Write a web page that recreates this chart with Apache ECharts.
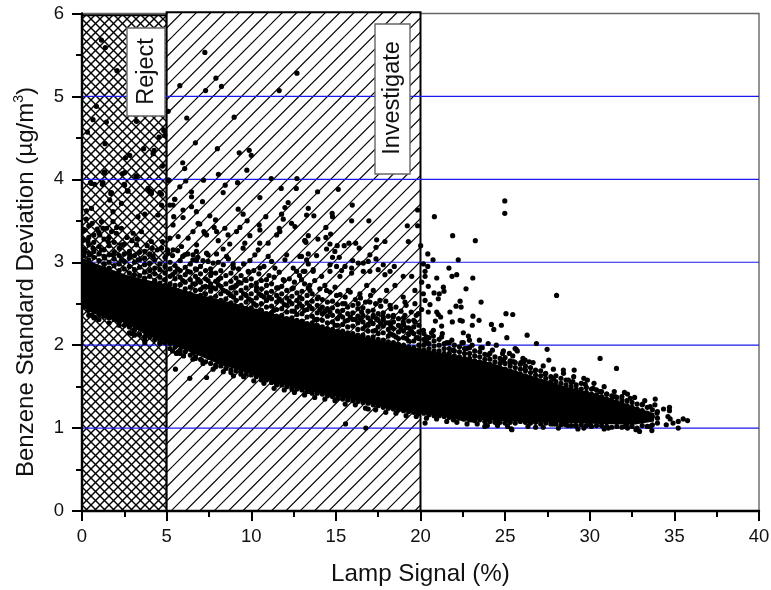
<!DOCTYPE html>
<html><head><meta charset="utf-8">
<style>html,body{margin:0;padding:0;background:#fff}#c{width:771px;height:590px}</style>
<script src="https://cdn.jsdelivr.net/npm/echarts@6/dist/echarts.min.js"></script>
</head><body><div id="c"></div>
<script>
const xTicks=[0,5,10,15,20,25,30,35,40];
const yTicks=[0,1,2,3,4,5,6];
const guideLevels=[1,2,3,4,5];
const regionNames=['Reject','Investigate'];
const regionFrom=[0,5];
const regionTo=[5,20];
const regionTop=[5.98,6.015];
// solid core of the cloud, read as lower / upper edge
const coreX=[0,1,2.6,3.8,5,6.6,8.1,9.7,11.3,12.9,14.2,16.2,18.2,20.1,22.1,24.1,26.7,28.6,30.6,32.6,33.8];
const coreHigh=[3.05,2.97,2.85,2.79,2.73,2.63,2.55,2.47,2.38,2.3,2.23,2.13,2.03,1.95,1.87,1.79,1.62,1.5,1.4,1.26,1.18];
const coreLow=[2.45,2.36,2.26,2.12,2.03,1.9,1.77,1.67,1.55,1.47,1.41,1.33,1.23,1.17,1.12,1.09,1.07,1.06,1.05,1.04,1.08];
const rejectPoints=[[1.15,5.68],[1.38,5.59],[2.07,5.31],[.85,4.88],[.65,4.72],[1.44,4.69],[.32,4.57],[1.36,4.43],[2.82,4.29],[2.57,4.26],[3.65,4.37],[4.26,4.35],[4.2,4.31],[3.22,4.7],[4.55,4.51],[4.83,4.59],[4.89,4.53],[1.3,4.08],[2.39,4.07],[3.18,4.03],[4.75,4.16],[.5,3.96],[.75,3.94],[1.24,3.96],[1.2,3.94],[2.49,3.94],[2.68,3.86],[1.74,3.84],[3.9,3.89],[4.1,3.85],[4.6,3.84],[4,3.86],[1.34,4.09],[2.52,4.08],[3.22,4.04],[.56,3.95],[2.52,3.93],[2.72,3.86],[4.1,3.83],[4.7,3.82],[1.7,3.83],[1.64,3.75],[2.33,3.71],[.56,3.65],[.26,3.62],[1.83,3.61],[4.7,3.69],[3.31,3.55],[3.71,3.58],[4.49,3.57],[1.15,3.49],[1.83,3.49],[2.33,3.41],[1.24,3.41],[.16,3.39],[3.02,3.35],[3.51,3.37],[1.05,3.33],[2.03,3.35],[4.1,3.25],[.35,3.25],[4.7,3.17],[1.54,3.25],[2.33,3.21],[3.22,3.21],[3.71,3.13],[.65,3.17],[.16,3.13],[1.15,3.15],[1.83,3.09],[2.82,3.09],[4.2,3.07],[.46,3.09],[1.34,3.05],[3.31,3.03],[2.33,3.03],[.56,2.36],[.75,2.34],[1.44,2.38],[2.13,2.3],[2.63,2.26],[2.92,2.14],[3.71,2.03]];
const investigatePoints=[[5.09,4.82],[7.26,5.53],[5.78,5.13],[7.3,5.07],[7.91,5.22],[8.24,5.12],[11.65,5.07],[12.7,5.28],[6.19,4.74],[8.99,4.75],[6.7,4.44],[8,4.37],[9.29,4.32],[9.88,4.35],[10,4.29],[5.95,4.2],[6.07,4.13],[8.06,4.06],[9.74,4.11],[5.13,3.99],[6.13,3.98],[7.18,3.99],[11.18,4.01],[12.7,4.01],[5.78,3.91],[6.47,3.85],[8.46,3.93],[9.19,3.96],[8.34,3.84],[11.77,3.89],[12.66,3.89],[5.48,3.76],[6.47,3.79],[10.51,3.78],[7.12,3.73],[6.47,3.67],[6.76,3.61],[9.23,3.64],[9.52,3.58],[7.55,3.56],[7.89,3.51],[9.76,3.5],[10.86,3.55],[12.18,3.72],[11.99,3.66],[11.79,3.58],[11.89,3.52],[13.37,3.65],[13.27,3.57],[6.96,3.46],[7.81,3.42],[8.44,3.41],[9.33,3.42],[10.47,3.45],[10.51,3.39],[11.65,3.41],[12.38,3.47],[12.58,3.43],[6.56,3.37],[7.2,3.37],[7.36,3.33],[7.95,3.37],[8.63,3.33],[9.13,3.37],[9.92,3.32],[11.5,3.33],[11.69,3.37],[13.37,3.32],[13.92,3.85],[15.14,3.88],[15.97,3.69],[13.7,3.56],[14.78,3.59],[14.8,3.55],[15.93,3.5],[16.95,3.5],[19.83,3.63],[19.22,3.44],[19.83,3.44],[14.41,3.42],[14.69,3.34],[14.41,3.3],[13.17,3.26],[13.23,3.24],[13.94,3.28],[17.41,3.27],[17.9,3.25],[19.28,3.25],[17.37,3.18],[14.65,3.22],[15.08,3.2],[15.49,3.2],[15.77,3.23],[16.17,3.23],[16.38,3.17],[14.45,3.16],[14.94,3.13],[13.37,3.1],[13.86,3.08],[12.97,3.07],[14.8,3.06],[15.2,3.06],[17.01,3.09],[17.37,3.04],[15.99,3.02],[16.91,3.01],[16.32,2.99],[16.62,2.99],[13.37,2.98],[14.65,2.97],[15.04,2.95],[15.54,2.95],[15.93,2.93],[17.8,2.97],[18.45,2.95],[17.5,2.91],[13.07,2.89],[13.66,2.89],[14.65,2.89],[15.34,2.9],[16.62,2.89],[17.01,2.89],[18.2,2.89],[15.93,2.87],[17.9,2.85],[18.98,2.83],[19.48,2.83],[14.16,2.83],[15.24,2.83]];
const lowerLeftPoints=[[5.09,3.99],[5.48,3.76],[5.19,3.69],[5.38,3.69],[5.97,3.63],[5.42,3.55],[5.97,3.54],[5.38,3.45],[6.86,3.47],[5.19,3.29],[5.68,3.31],[6.27,3.29],[6.77,3.21],[5.88,3.19],[5.38,3.15],[5.09,3.11],[6.07,3.09],[6.56,3.09],[7.25,3.35],[8.05,3.26],[8.73,3.22],[9.62,3.23],[10.5,3.23],[11,3.23],[13.17,3.26],[8.34,3.16],[9.52,3.17],[10.41,3.15],[6.76,3.13],[7.36,3.11],[7.95,3.1],[8.54,3.07],[10.21,3.09],[11,3.07],[12.09,3.09],[12.87,3.07],[6.76,3.02],[7.45,3.01],[8.93,2.98],[9.92,3.02],[11.2,3.01],[11.99,3.03],[13.27,3.03],[6.76,2.91],[7.65,2.87],[8.93,2.93],[9.82,2.89],[10.51,2.93],[11.4,2.93],[12.48,2.93],[13.17,2.89],[8.05,2.79],[9.62,2.79],[10.9,2.79],[11.89,2.79],[12.97,2.79],[6.86,2.79],[8.93,2.7],[10.31,2.7],[11.59,2.69],[12.48,2.69],[13.37,2.69],[7.55,2.7],[13.66,2.91],[12.68,2.89],[12.87,2.58],[13.47,2.66],[13.96,2.58],[14.45,2.66],[15.04,2.6],[15.73,2.66],[16.42,2.62],[16.82,2.72],[17.21,2.66],[18,2.66],[18.49,2.72],[18.98,2.58],[19.67,2.66],[15.54,2.5],[16.32,2.5],[17.01,2.52],[17.6,2.54],[18.2,2.48],[19.08,2.52],[19.67,2.5],[16.52,2.4],[17.21,2.36],[17.8,2.34],[18.39,2.34],[19.08,2.36],[19.87,2.38],[19.67,2.28],[18.98,2.28],[18.2,2.26],[17.4,2.32],[19.48,2.16],[18.2,2.14],[19.18,2.08],[5.52,1.71],[6.37,1.6],[7.36,1.61],[5.58,1.9],[7.06,1.82],[8.44,1.78],[9.39,1.65],[11.3,1.57],[5.68,1.92],[6.56,1.91],[15.57,1.05],[16.77,1],[16.91,1.23],[19.87,1.17],[13.5,1.44],[12.72,1.48]];
const rightPoints=[[24.98,3.74],[24.98,3.59],[20.82,3.55],[21.9,3.32],[23.24,3.26],[20.01,3.2],[20.43,3.1],[20.74,3.03],[22.23,3.03],[21.68,2.93],[20.17,2.98],[20.43,2.95],[20.27,2.89],[21.86,2.83],[22.14,2.85],[23.09,2.81],[20.96,2.81],[20.27,2.83],[20.07,2.76],[20.46,2.71],[22.69,2.68],[21.35,2.7],[21.39,2.65],[20.8,2.63],[21.11,2.62],[20.17,2.62],[21.05,2.56],[20.27,2.54],[22.34,2.53],[20.56,2.49],[23.58,2.52],[22.1,2.47],[22.4,2.46],[20.07,2.43],[20.46,2.4],[20.96,2.4],[21.05,2.37],[21.19,2.34],[21.74,2.4],[25.05,2.38],[25.45,2.37],[20.88,2.29],[21.88,2.28],[22.34,2.3],[22.47,2.29],[23.1,2.35],[23.46,2.3],[23.06,2.24],[24.19,2.25],[24.33,2.19],[24.78,2.24],[21.25,2.23],[21.29,2.14],[20.76,2.18],[20.76,2.11],[22.53,2.15],[22.83,2.11],[22.89,2.06],[23.48,2.06],[25.1,2.09],[26.3,2.12],[24,2.02],[24.48,2],[23.56,1.97],[24.9,1.93],[25.25,1.9],[25.65,1.95],[20.37,2.04],[21.55,2.03],[22.53,2.03],[21.94,1.94],[22.73,1.96],[24,1.88],[24.9,1.82],[26.08,1.8],[25.45,1.8],[20.17,2.18],[20.27,2.03],[20.27,1.06],[23.8,1.02],[25.37,.99],[26.85,2.02],[27.48,1.95],[27.58,1.82],[28.04,2.6],[30.61,1.84],[31.58,1.72],[28.44,1.7],[29.08,1.7],[25.59,1.96],[25.72,1.93],[24.9,1.81],[25.29,1.8],[25.53,1.8],[25.93,1.79],[26.18,1.82],[26.42,1.8],[29.86,1.58],[29.73,1.53],[28.74,1.58],[29,1.56],[27.85,1.6],[27.36,1.65],[26.77,1.69],[26.18,1.71],[32.23,1.41],[32.39,1.36],[33.87,1.35],[33.12,1.29],[34.36,1.23],[34.71,1.25],[34.71,1.21],[33.57,1.26],[33.97,1.18],[34.62,1.14],[34.75,1.11],[34.92,1.06],[34.52,1.04],[35.23,1.08],[35.52,1.11],[35.78,1.09],[35.23,1],[33.67,.97],[33.6,1.02],[32.94,.96],[32.73,.98],[32.09,1.02],[32.23,1],[31.1,1],[29.3,.99],[29.14,1.03],[28.7,1.03],[26.8,1.01],[25.4,.98],[31,1.41],[31.5,1.38],[30.6,1.44],[30.2,1.48],[31.9,1.34],[20.96,1.16],[21.94,1.1],[22.53,1.11],[23.03,1.1],[23.92,1.1],[24.51,1.09],[25.1,1.09],[25.88,1.1],[27.85,1.05],[28.44,1.05],[30.03,1.04]];
// edge of the dense band: each row is one x followed by the y values read at that x
const bandColumns=[[.1,3.38,3.27,3.16,3.08,2.46,2.52],[.4,3.44,3.3,3.21,3.11,3.03,2.42,2.36],[.7,3.33,3.24,3.13,3.06,2.4,2.33],[1,3.36,3.19,3.1,3.02,2.37,2.31],[1.3,3.28,3.15,3.07,2.98,2.35],[1.6,3.3,3.2,3.09,3,2.93,2.33,2.27],[1.9,3.24,3.12,3.04,2.96,2.31],[2.2,3.17,3.08,2.98,2.9,2.28,2.24],[2.5,3.22,3.1,3.01,2.92,2.24],[2.8,3.13,3.05,2.95,2.87,2.22,2.15],[3.1,3.08,3,2.91,2.85,2.18,2.12],[3.4,3.12,3.03,2.94,2.84,2.13],[3.7,3.05,2.97,2.88,2.81,2.1,2.06],[4,3.1,2.99,2.9,2.83,2.1],[4.3,3.03,2.93,2.86,2.78,2.07],[4.6,2.98,2.91,2.82,2.75,2.04,2.02],[4.9,3.06,2.95,2.87,2.79,2.72,2.03],[5.2,3,2.92,2.83,2.74,2.02,1.96],[5.5,2.96,2.88,2.8,2.72,1.98],[5.8,3.02,2.9,2.82,2.73,1.94,1.9],[6.1,2.94,2.85,2.76,2.68,1.92],[6.4,2.98,2.88,2.79,2.7,2.62,1.88],[6.7,2.92,2.83,2.74,2.66,1.86,1.84],[7,2.95,2.86,2.76,2.67,2.6,1.83],[7.3,2.9,2.8,2.71,2.62,1.8],[7.6,2.92,2.84,2.74,2.65,2.57,1.78],[7.9,2.87,2.77,2.68,2.59,1.76,1.74],[8.2,2.9,2.81,2.71,2.62,2.54,1.75],[8.5,2.84,2.74,2.65,2.56,1.72],[8.8,2.87,2.77,2.69,2.6,2.51,1.7,1.67],[9.1,2.81,2.72,2.63,2.54,2.47,1.69],[9.4,2.84,2.75,2.66,2.57,2.48,1.68],[9.7,2.78,2.69,2.6,2.52,2.44,1.65],[10,2.8,2.72,2.62,2.54,2.45,1.64],[10.3,2.75,2.66,2.57,2.48,2.41,1.62],[10.6,2.78,2.68,2.6,2.5,2.42,1.61,1.58],[10.9,2.72,2.63,2.54,2.46,2.38,1.58],[11.2,2.74,2.65,2.56,2.47,2.39,1.55],[11.5,2.69,2.6,2.52,2.43,2.35,1.54,1.52],[11.8,2.71,2.62,2.53,2.44,2.36,1.52],[12.1,2.66,2.57,2.48,2.4,2.32,1.5],[12.4,2.68,2.59,2.5,2.41,2.33,1.5,1.47],[12.7,2.63,2.54,2.46,2.37,2.3,1.47],[13,2.65,2.56,2.47,2.38,2.29,1.46],[13.3,2.6,2.51,2.43,2.34,2.26,1.44],[13.6,2.62,2.53,2.44,2.35,2.27,1.42],[13.9,2.56,2.48,2.39,2.31,2.24,1.42],[14.2,2.55,2.46,2.38,2.3,2.22,1.41],[14.5,2.52,2.44,2.35,2.27,2.2,1.39],[14.8,2.53,2.45,2.36,2.28,2.19,1.38],[15.1,2.49,2.41,2.32,2.24,2.17,1.36],[15.4,2.5,2.42,2.34,2.25,2.17,1.35],[15.7,2.46,2.38,2.3,2.22,2.15,1.34],[16,2.48,2.39,2.31,2.23,2.14,1.33],[16.3,2.44,2.35,2.27,2.19,2.12,1.32],[16.6,2.45,2.36,2.28,2.2,2.12,1.31],[16.9,2.41,2.33,2.25,2.17,2.09,1.3],[17.2,2.42,2.34,2.26,2.17,2.1,1.28],[17.5,2.38,2.3,2.22,2.14,2.07,1.27],[17.8,2.39,2.31,2.23,2.15,2.06,1.25],[18.1,2.35,2.27,2.19,2.11,2.04,1.24],[18.4,2.36,2.28,2.2,2.12,2.03,1.23],[18.7,2.32,2.24,2.16,2.08,2.01,1.22],[19,2.33,2.25,2.17,2.09,2,1.21],[19.3,2.29,2.21,2.13,2.05,1.98,1.2],[19.6,2.3,2.22,2.14,2.05,1.97,1.19],[19.9,2.24,2.16,2.08,2,1.94,1.18],[20.2,2.14,2.07,2,1.94,1.18],[20.5,2.09,2.02,1.96,1.91,1.16],[20.8,2.05,1.99,1.93,1.87,1.15],[21.1,2.07,2,1.93,1.86,1.15],[21.4,2.02,1.96,1.9,1.84,1.14],[21.7,2.03,1.96,1.9,1.85,1.13],[22,2,1.93,1.87,1.82,1.12],[22.3,1.98,1.92,1.86,1.8,1.12],[22.6,1.96,1.9,1.84,1.79,1.11],[22.9,1.97,1.9,1.84,1.78,1.1],[23.2,1.93,1.87,1.81,1.76,1.09],[23.5,1.92,1.86,1.8,1.75,1.1],[23.8,1.89,1.83,1.78,1.08],[24.1,1.9,1.83,1.77,1.08],[24.4,1.86,1.8,1.74,1.07],[24.7,1.84,1.78,1.72,1.07],[25,1.85,1.78,1.71,1.06],[25.3,1.81,1.75,1.69,1.07],[25.6,1.79,1.73,1.67,1.06],[25.9,1.77,1.71,1.65,1.08],[26.2,1.75,1.69,1.63,1.07],[26.5,1.73,1.67,1.61,1.06],[26.8,1.7,1.64,1.59,1.07],[27.1,1.69,1.63,1.57,1.05],[27.4,1.66,1.6,1.55,1.06],[27.7,1.62,1.56,1.5,1.05],[28,1.63,1.56,1.5,1.05],[28.3,1.6,1.54,1.48,1.04],[28.6,1.58,1.52,1.04],[28.9,1.55,1.5,1.45,1.03],[29.2,1.52,1.47,1.03],[29.5,1.54,1.47,1.41,1.04],[29.8,1.49,1.43,1.03],[30.1,1.47,1.41,1.02],[30.4,1.46,1.4,1.03],[30.7,1.44,1.38,1.03],[31,1.41,1.35,1.02],[31.3,1.39,1.34,1.01],[31.6,1.37,1.31,1.02],[31.9,1.38,1.3,1.01],[32.2,1.33,1.27,1.03],[32.5,1.31,1.25,1.02],[32.8,1.29,1.23,1],[33.1,1.28,1.21,1.03],[33.4,1.25,1.18,1.02],[33.7,1.22,1.14,1.04],[34,1.2,1.12,1.06]];
const upperFringe=[[.25,3.52],[.6,3.47],[.9,3.4],[1.45,3.41],[1.75,3.37],[2.05,3.42],[2.65,3.3],[2.95,3.26],[3.25,3.28],[3.85,3.2],[4.15,3.17],[4.45,3.15],[4.75,3.25],[5.05,3.15],[5.35,3.08],[5.65,3.14],[5.95,3.07],[6.25,3.1],[6.55,3.03],[6.85,3.06],[7.15,3.02],[7.45,3.09],[7.75,2.99],[8.05,3],[8.35,2.97],[8.65,3.04],[8.95,2.94],[9.25,2.92],[9.55,2.98],[9.85,2.88],[10.15,2.9],[10.45,2.86],[10.75,2.95],[11.05,2.84],[11.35,2.82],[11.65,2.88],[11.95,2.78],[12.25,2.8],[12.55,2.76],[12.85,2.84],[13.15,2.74],[13.45,2.72],[13.75,2.78],[14.05,2.68],[14.35,2.72],[14.65,2.64],[14.95,2.7],[15.25,2.61],[15.55,2.58],[15.85,2.64],[16.15,2.55],[16.45,2.57],[16.75,2.52],[17.05,2.6],[17.35,2.5],[17.65,2.47],[17.95,2.53],[18.25,2.44],[18.55,2.46],[18.85,2.41],[19.15,2.48],[19.45,2.4],[19.75,2.36],[5.35,2.85],[5.95,2.78],[6.55,2.74],[7.15,2.7],[7.75,2.69],[8.35,2.66],[8.95,2.58],[9.55,2.62],[10.15,2.5],[10.75,2.58],[11.35,2.42],[11.95,2.49],[12.55,2.41],[13.15,2.42],[13.75,2.31],[14.35,2.41],[14.95,2.24],[15.55,2.29],[16.15,2.31],[16.75,2.23],[17.35,2.18],[17.95,2.27],[18.55,2.1],[19.15,2.21],[19.75,2.09],[5.65,2.92],[6.25,2.89],[6.85,2.79],[7.45,2.78],[8.05,2.73],[8.65,2.63],[9.25,2.76],[9.85,2.56],[10.45,2.62],[11.05,2.58],[11.65,2.56],[12.25,2.53],[12.85,2.5],[13.45,2.47],[14.05,2.43],[14.65,2.4],[15.25,2.36],[15.85,2.34],[16.45,2.32],[17.05,2.29],[17.65,2.26],[18.25,2.23],[18.85,2.2],[19.45,2.17],[20.35,2.1],[20.65,2.15],[21.25,2.1],[21.85,2.06],[22.45,2.03],[23.05,2],[23.65,1.97],[24.25,1.94],[24.85,1.9],[25.45,1.87],[26.05,1.84],[26.65,1.79],[27.25,1.75],[27.85,1.71],[28.45,1.66],[29.05,1.62],[29.65,1.6],[30.25,1.54],[30.85,1.5],[31.45,1.44],[32.05,1.43],[32.65,1.37],[33.25,1.33],[33.85,1.28]];
const lowerFringe=[[5.35,1.93],[6,1.87],[6.55,1.83],[7.15,1.78],[7.75,1.71],[8.35,1.68],[8.95,1.63],[9.55,1.62],[10.15,1.57],[10.75,1.54],[11.35,1.48],[11.95,1.46],[12.55,1.43],[13.15,1.4],[13.75,1.37],[14.35,1.35],[14.95,1.33],[15.55,1.29],[16.15,1.28],[16.75,1.24],[17.35,1.22],[17.95,1.19],[18.55,1.18],[19.15,1.15],[19.75,1.14],[20.35,1.12],[20.95,1.11],[21.55,1.08],[22.15,1.07],[22.75,1.05],[23.35,1.05],[23.95,1.03],[24.55,1.03],[25.15,1.02],[26.35,1.02],[27.25,1.01],[28.15,1],[29.65,1],[30.85,.99]];
const xTitle='Lamp Signal (%)';

const bandPoints=[];
bandColumns.forEach(c=>c.slice(1).forEach(y=>bandPoints.push([c[0],y])));
const points=rejectPoints.concat(investigatePoints,lowerLeftPoints,rightPoints,bandPoints,upperFringe,lowerFringe);

function hatchTile(){
  const c=document.createElement('canvas');c.width=c.height=43;
  const g=c.getContext('2d');g.fillStyle='#fff';g.fillRect(0,0,43,43);
  g.strokeStyle='#000';g.lineWidth=1.15;
  for(let k=-1;k<7;k++){const s=8.33+k*14.333;g.beginPath();g.moveTo(s+50,-50);g.lineTo(s-50,50);g.stroke();}
  return {image:c,repeat:'repeat'};
}
function crossTile(){
  const c=document.createElement('canvas');c.width=c.height=18;
  const g=c.getContext('2d');g.fillStyle='#fff';g.fillRect(0,0,18,18);
  g.strokeStyle='#000';g.lineWidth=1.4;
  for(let k=-3;k<6;k++){const s=k*9;
    g.beginPath();g.moveTo(s-2,-2);g.lineTo(s+22,22);g.stroke();
    g.beginPath();g.moveTo(s+22,-2);g.lineTo(s-2,22);g.stroke();}
  return {image:c,repeat:'repeat'};
}
const fills=[crossTile(),hatchTile()];

const chart=echarts.init(document.getElementById('c'),null,{renderer:'canvas'});
chart.setOption({
  animation:false,backgroundColor:'#fff',
  textStyle:{fontFamily:'"Liberation Sans",Arial,sans-serif'},
  grid:{left:82,right:12,top:13.5,bottom:79,outerBoundsMode:'none',show:true,borderColor:'#666',borderWidth:1.4,backgroundColor:'transparent'},
  xAxis:{type:'value',min:0,max:40,interval:5,z:10,
    name:xTitle,nameLocation:'middle',nameGap:51,
    nameTextStyle:{fontSize:24.2,color:'#111',fontFamily:'"Liberation Sans"'},
    axisLine:{lineStyle:{color:'#000',width:2.4}},
    axisTick:{length:10,lineStyle:{color:'#000',width:2}},
    minorTick:{show:true,splitNumber:2,length:6,lineStyle:{color:'#000',width:2}},
    axisLabel:{fontSize:18.5,color:'#111',margin:16,fontFamily:'"Liberation Sans"',formatter:v=>xTicks.includes(v)?String(v):''},
    splitLine:{show:false}},
  yAxis:{type:'value',min:0,max:6,interval:1,z:10,
    axisLine:{lineStyle:{color:'#000',width:2.4}},
    axisTick:{length:10,lineStyle:{color:'#000',width:2}},
    minorTick:{show:true,splitNumber:2,length:6,lineStyle:{color:'#000',width:2}},
    axisLabel:{fontSize:18.5,color:'#111',margin:18,fontFamily:'"Liberation Sans"',formatter:v=>yTicks.includes(v)?String(v):''},
    splitLine:{show:false}},
  series:[
    {type:'custom',name:'Regions',z:1,silent:true,clip:false,
      data:regionNames.map((n,i)=>[regionFrom[i],regionTo[i],regionTop[i]]),
      encode:{x:[0,1],y:2},
      renderItem(p,api){
        const i=p.dataIndex,a=api.coord([api.value(0),api.value(2)]),b=api.coord([api.value(1),0]);
        return {type:'rect',shape:{x:a[0],y:a[1],width:b[0]-a[0],height:b[1]-a[1]},
          style:{fill:fills[i],stroke:'#000',lineWidth:2}};
      }},
    ...guideLevels.map(l=>({type:'line',z:2,silent:true,symbol:'none',data:[[0,l],[40,l]],
      lineStyle:{color:'#1a1aee',width:1.2}})),
    {type:'custom',name:'Core',z:3,silent:true,
      data:[0],
      encode:{x:[],y:[]},
      renderItem(p,api){
        const pts=coreX.map((x,i)=>api.coord([x,coreHigh[i]])).concat(coreX.map((x,i)=>api.coord([x,coreLow[i]])).reverse());
        return {type:'polygon',shape:{points:pts},style:{fill:'#000'}};
      }},
    {type:'scatter',name:'Benzene',z:4,silent:true,symbol:'circle',symbolSize:5.2,large:false,
      itemStyle:{color:'#000',opacity:1},data:points}
  ],
  graphic:[
    {type:'group',z:100,children:[
      {type:'rect',z:100,shape:{x:127,y:28,width:38,height:88},style:{fill:'#fff',stroke:'#666',lineWidth:1.4}},
      {type:'text',z:101,x:146.5,y:71.5,rotation:Math.PI/2,style:{text:regionNames[0],fontSize:23.5,fontFamily:'"Liberation Sans"',fill:'#111',align:'center',verticalAlign:'middle'}},
      {type:'rect',z:100,shape:{x:375,y:24,width:35,height:150},style:{fill:'#fff',stroke:'#666',lineWidth:1.4}},
      {type:'text',z:101,x:393,y:98,rotation:Math.PI/2,style:{text:regionNames[1],fontSize:23.5,fontFamily:'"Liberation Sans"',fill:'#111',align:'center',verticalAlign:'middle'}},
      {type:'text',z:101,x:26,y:282,rotation:Math.PI/2,style:{
        text:'{t|Benzene Standard Deviation (}{m|\u03bc}{t|g/m}{s|3}{t|)}',align:'center',verticalAlign:'middle',
        rich:{t:{fontSize:24,fill:'#111',fontFamily:'"Liberation Sans"',lineHeight:28},
          m:{fontSize:22,fill:'#111',fontFamily:'"DejaVu Sans"',lineHeight:28},
          s:{fontSize:14,fill:'#111',fontFamily:'"Liberation Sans"',verticalAlign:'top',lineHeight:20}}}}
    ]}
  ]
});
</script></body></html>
